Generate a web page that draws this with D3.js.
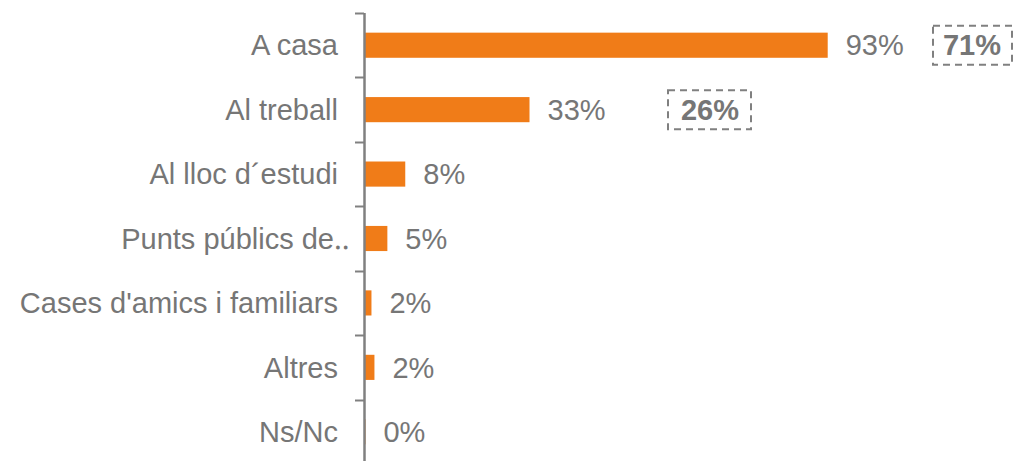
<!DOCTYPE html>
<html>
<head>
<meta charset="utf-8">
<style>
body { margin: 0; background: #fff; }
text { font-family: "Liberation Sans", Arial, sans-serif; }
</style>
<script src="https://cdn.jsdelivr.net/npm/d3@7"></script>
</head>
<body>
<div id="chart"></div>
<script>

var categories = ["A casa", "Al treball", "Al lloc d\u00b4estudi", "Punts p\u00fablics de\u2025",
                  "Cases d'amics i familiars", "Altres", "Ns/Nc"];
var values = [93.1, 33.1, 8.1, 4.5, 1.3, 1.9, 0.1];
var valueLabels = ["93%", "33%", "8%", "5%", "2%", "2%", "0%"];
// boxed reference values shown next to the first two rows
var boxCats = ["A casa", "Al treball"];
var boxLabels = ["71%", "26%"];
var boxX = [972, 710];

var width = 1014, height = 461;
var left = 365;
var fs = 29;

var svg = d3.select("#chart").append("svg")
    .attr("width", width)
    .attr("height", height);

var x = d3.scaleLinear().domain([0, 100]).range([left, left + 497]);
var y = d3.scaleBand().domain(categories).range([13, 464]).paddingInner(0.61).paddingOuter(0.305);
var yb = d3.scaleBand().domain(categories).range([13, 464]);

// bars
svg.selectAll(".bar")
  .data(categories)
  .enter().append("rect")
    .attr("x", x(0))
    .attr("y", function(d) { return y(d); })
    .attr("width", function(d, i) { return x(values[i]) - x(0); })
    .attr("height", y.bandwidth())
    .attr("fill", "#f07c18");

// axis
svg.append("line")
    .attr("x1", 364.5).attr("x2", 364.5)
    .attr("y1", 13).attr("y2", 464)
    .attr("stroke", "#808080").attr("stroke-width", 2.5);

svg.selectAll(".tick")
  .data(categories)
  .enter().append("line")
    .attr("x1", 355).attr("x2", 364)
    .attr("y1", function(d) { return Math.round(yb(d)) + 0.5; })
    .attr("y2", function(d) { return Math.round(yb(d)) + 0.5; })
    .attr("stroke", "#808080").attr("stroke-width", 2);

// category labels (truncated one sits a bit closer to the axis)
svg.selectAll(".cat")
  .data(categories)
  .enter().append("text")
    .attr("x", function(d) { return d.slice(-1) == "\u2025" ? 350 : 338; })
    .attr("y", function(d) { return yb(d) + yb.bandwidth() / 2; })
    .attr("dy", "0.35em")
    .attr("text-anchor", "end")
    .attr("font-size", fs)
    .attr("fill", "#767676")
    .text(function(d) { return d; });

// value labels
svg.selectAll(".val")
  .data(categories)
  .enter().append("text")
    .attr("x", function(d, i) { return x(values[i]) + 18; })
    .attr("y", function(d) { return yb(d) + yb.bandwidth() / 2; })
    .attr("dy", "0.35em")
    .attr("font-size", fs)
    .attr("fill", "#767676")
    .text(function(d, i) { return valueLabels[i]; });

// dashed boxes
var boxes = svg.selectAll(".box")
  .data(boxCats)
  .enter().append("g")
    .attr("transform", function(d, i) {
      return "translate(" + boxX[i] + "," + (yb(d) + yb.bandwidth() / 2) + ")";
    });

boxes.append("rect")
    .attr("x", function(d, i) { return i == 0 ? -39 : -42; })
    .attr("y", -19.5)
    .attr("width", function(d, i) { return i == 0 ? 79 : 83; })
    .attr("height", 39)
    .attr("fill", "none")
    .attr("stroke", "#808080")
    .attr("stroke-width", 2)
    .attr("stroke-dasharray", "7,5");

boxes.append("text")
    .attr("text-anchor", "middle")
    .attr("dy", "0.35em")
    .attr("font-size", fs)
    .attr("font-weight", "bold")
    .attr("fill", "#767676")
    .text(function(d, i) { return boxLabels[i]; });

</script>
</body>
</html>
